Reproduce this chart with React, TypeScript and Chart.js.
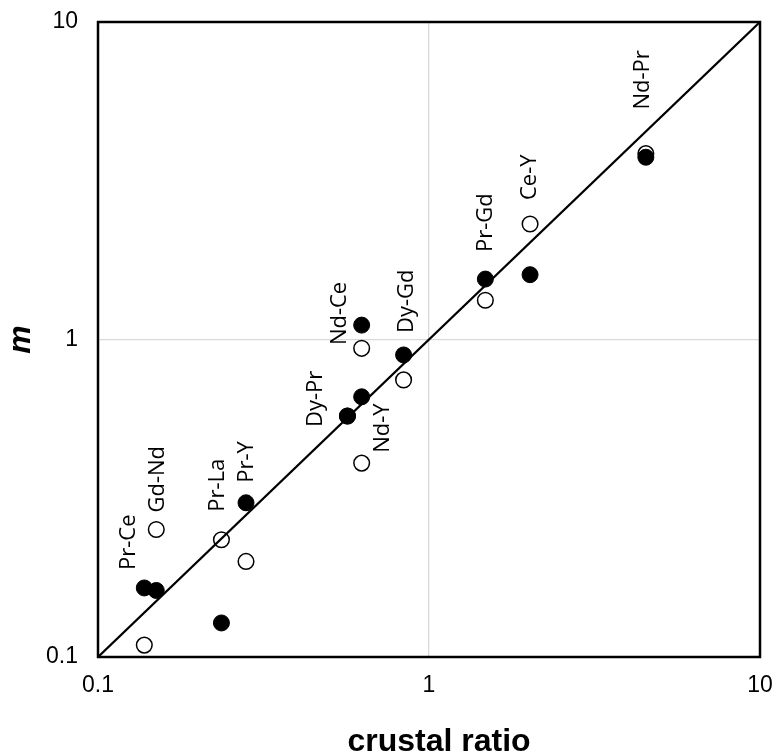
import React, { useEffect, useRef } from 'react';
import { Chart, registerables } from 'chart.js';

Chart.register(...registerables);

// ---- data ----
const pairLabels = ['Pr-Ce', 'Gd-Nd', 'Pr-La', 'Pr-Y', 'Dy-Pr', 'Nd-Y', 'Nd-Ce', 'Dy-Gd', 'Pr-Gd', 'Ce-Y', 'Nd-Pr'];
const crustalRatio = [0.138, 0.150, 0.236, 0.280, 0.567, 0.626, 0.626, 0.838, 1.48, 2.02, 4.52];
const mFilled = [0.165, 0.162, 0.128, 0.306, 0.574, 0.660, 1.11, 0.894, 1.55, 1.60, 3.75];
const mOpen = [0.109, 0.252, 0.234, 0.200, 0.574, 0.408, 0.938, 0.746, 1.33, 2.31, 3.85];
const tickValues = [0.1, 1, 10];
const axisMin = 0.1;
const axisMax = 10;
const xTitle = 'crustal ratio';
const yTitle = 'm';

// ---- layout (label offsets in px relative to upper marker) ----
const labelOffsets: [number, number][] = [
  [-16, -18], [1, -17], [-4, -28], [1, -20], [-32, 11], [21, 56],
  [-22, 20], [3, -22], [0, -27], [0, -24], [-3, -44],
];

const labelFont = '22px "Open Sans"';
const tickFamily = 'Liberation Sans';

const boxPlugin = {
  id: 'plotBox',
  afterDatasetsDraw(chart: any) {
    const { ctx, chartArea: a } = chart;
    ctx.save();
    ctx.strokeStyle = '#000';
    ctx.lineWidth = 2.5;
    ctx.strokeRect(a.left, a.top, a.right - a.left, a.bottom - a.top);
    ctx.restore();
  },
};

const pointLabelPlugin = {
  id: 'pointLabels',
  afterDraw(chart: any) {
    const { ctx } = chart;
    const xs = chart.scales.x;
    const ys = chart.scales.y;
    ctx.save();
    ctx.fillStyle = '#000';
    ctx.font = labelFont;
    ctx.textAlign = 'left';
    ctx.textBaseline = 'middle';
    pairLabels.forEach((lab, i) => {
      const px = xs.getPixelForValue(crustalRatio[i]);
      const py = ys.getPixelForValue(Math.max(mFilled[i], mOpen[i]));
      const [dx, dy] = labelOffsets[i];
      ctx.save();
      ctx.translate(px + dx, py + dy);
      ctx.rotate(-Math.PI / 2);
      ctx.fillText(lab, 0, 0);
      ctx.restore();
    });
    ctx.restore();
  },
};

const axisTitlePlugin = {
  id: 'axisTitles',
  afterDraw(chart: any) {
    const { ctx, chartArea: a, height } = chart;
    ctx.save();
    ctx.fillStyle = '#000';
    ctx.font = `bold 32px "${tickFamily}"`;
    ctx.textAlign = 'center';
    ctx.textBaseline = 'alphabetic';
    ctx.fillText(xTitle, (a.left + a.right) / 2 + 10, height - 3);
    ctx.font = `italic bold 32px "${tickFamily}"`;
    ctx.translate(30, (a.top + a.bottom) / 2);
    ctx.rotate(-Math.PI / 2);
    ctx.fillText(yTitle, 0, 0);
    ctx.restore();
  },
};

export default function App() {
  const ref = useRef<HTMLCanvasElement | null>(null);

  useEffect(() => {
    document.body.style.margin = '0';
    const canvas = ref.current;
    if (!canvas) return;
    const fmt = (v: any) => String(Number(v));
    const chart = new Chart(canvas, {
      type: 'scatter',
      data: {
        datasets: [
          {
            label: 'y = x',
            data: [{ x: axisMin, y: axisMin }, { x: axisMax, y: axisMax }],
            showLine: true,
            borderColor: '#000',
            borderWidth: 2.25,
            pointRadius: 0,
            order: 0,
          } as any,
          {
            label: 'filled',
            data: crustalRatio.map((x, i) => ({ x, y: mFilled[i] })),
            backgroundColor: '#000',
            borderColor: '#000',
            borderWidth: 1,
            pointRadius: 8,
            order: 1,
          },
          {
            label: 'open',
            data: crustalRatio.map((x, i) => ({ x, y: mOpen[i] })),
            backgroundColor: '#fff',
            borderColor: '#000',
            borderWidth: 1.5,
            pointRadius: 7.8,
            order: 2,
          },
        ],
      },
      options: {
        responsive: false,
        animation: false,
        layout: { padding: { left: 0, right: 17, top: 22, bottom: 0 } },
        plugins: { legend: { display: false }, tooltip: { enabled: false } },
        scales: {
          x: {
            type: 'logarithmic',
            min: axisMin,
            max: axisMax,
            afterBuildTicks: (s: any) => { s.ticks = tickValues.map((v) => ({ value: v })); },
            afterFit: (s: any) => { s.height = 97; },
            ticks: {
              callback: fmt,
              font: { family: tickFamily, size: 23 },
              color: '#000',
              padding: 0,
              maxRotation: 0,
              autoSkip: false,
            },
            grid: { color: '#d9d9d9', lineWidth: 1.3, drawTicks: true, tickLength: 15, tickColor: 'rgba(0,0,0,0)' },
            border: { display: false },
          },
          y: {
            type: 'logarithmic',
            min: axisMin,
            max: axisMax,
            afterBuildTicks: (s: any) => { s.ticks = tickValues.map((v) => ({ value: v })); },
            afterFit: (s: any) => { s.width = 98; },
            ticks: {
              callback: fmt,
              font: { family: tickFamily, size: 23 },
              color: '#000',
              padding: 0,
              autoSkip: false,
            },
            grid: { color: '#d9d9d9', lineWidth: 1.3, drawTicks: true, tickLength: 20, tickColor: 'rgba(0,0,0,0)' },
            border: { display: false },
          },
        },
      } as any,
      plugins: [boxPlugin, pointLabelPlugin, axisTitlePlugin],
    });
    return () => chart.destroy();
  }, []);

  return (
    <div style={{ width: 777, height: 754, background: '#fff' }}>
      <canvas ref={ref} width={777} height={754} style={{ display: 'block', width: 777, height: 754 }} />
    </div>
  );
}
